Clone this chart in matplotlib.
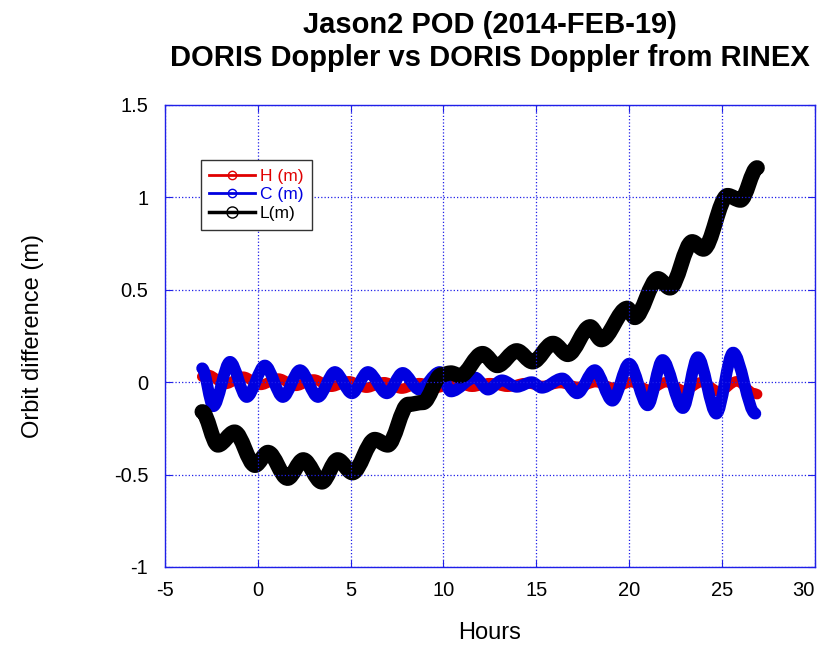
import numpy as np
import matplotlib.pyplot as plt
from matplotlib.lines import Line2D
from matplotlib.path import Path
from matplotlib.patches import PathPatch

plt.rcParams['font.family'] = ['Liberation Sans', 'DejaVu Sans']
plt.rcParams['axes.unicode_minus'] = False

# --- data (hours, metres), peaks and troughs ---
h_hours = [-3.0, -2.7, -1.75, -0.8, 0.15, 1.1, 2.05, 3.0, 3.95, 4.9, 5.85, 6.8,
           7.75, 8.7, 9.65, 10.6, 11.55, 12.5, 13.45, 14.4, 15.35, 16.3, 17.25,
           18.2, 19.15, 20.1, 21.05, 22.0, 22.95, 23.9, 24.85, 25.8, 26.75, 26.9]
h_vals = [0.03, 0.04, -0.01, 0.03, -0.015, 0.02, -0.02, 0.015, -0.025, 0.005,
          -0.03, 0.0, -0.035, -0.005, -0.03, 0.0, -0.025, -0.005, -0.025, -0.005,
          -0.02, -0.005, -0.025, 0.0, -0.03, 0.0, -0.04, 0.0, -0.045, 0.0,
          -0.05, 0.005, -0.06, -0.065]

c_hours = [-3.0, -2.4, -1.5, -0.6, 0.38, 1.35, 2.27, 3.24, 4.15, 5.07, 5.93,
           6.95, 7.8, 8.7, 9.8, 10.4, 11.7, 12.4, 13.15, 13.95, 14.75, 15.3,
           16.4, 17.2, 18.15, 19.1, 20.0, 21.0, 21.8, 22.9, 23.7, 24.7, 25.6,
           26.8]
c_vals = [0.075, -0.13, 0.11, -0.08, 0.09, -0.08, 0.065, -0.08, 0.055, -0.06,
          0.055, -0.06, 0.05, -0.04, 0.055, -0.05, 0.025, -0.04, 0.01, -0.025,
          0.0, -0.03, 0.02, -0.06, 0.065, -0.1, 0.1, -0.125, 0.12, -0.14,
          0.135, -0.17, 0.16, -0.17]

l_hours = [-3.0, -2.15, -1.25, -0.15, 0.55, 1.6, 2.45, 3.45, 4.3, 5.1, 6.3, 7.0,
           8.1, 8.9, 9.9, 10.4, 10.9, 12.1, 12.9, 13.95, 14.8, 15.9, 16.7, 17.9,
           18.5, 19.9, 20.3, 21.55, 22.2, 23.4, 24.0, 25.3, 26.0, 26.9]
l_vals = [-0.16, -0.34, -0.27, -0.45, -0.38, -0.52, -0.42, -0.54, -0.42, -0.49,
          -0.31, -0.34, -0.12, -0.11, 0.04, 0.05, 0.035, 0.155, 0.09, 0.17,
          0.11, 0.21, 0.15, 0.30, 0.23, 0.40, 0.35, 0.56, 0.51, 0.76, 0.72,
          1.01, 0.985, 1.16]

labels = ['H (m)', 'C (m)', 'L(m)']
colors = ['#e00000', '#0000e0', 'black']

x_ticks = [-5, 0, 5, 10, 15, 20, 25, 30]
y_ticks = [-1, -0.5, 0, 0.5, 1, 1.5]
y_tick_labels = ['-1', '-0.5', '0', '0.5', '1', '1.5']

axis_blue = '#1f1fe8'


def smooth_path(xs, ys):
    # cubic bezier through the read extrema, flat tangent at each one
    verts = [(xs[0], ys[0])]
    codes = [Path.MOVETO]
    for i in range(1, len(xs)):
        dx = (xs[i] - xs[i - 1]) / 3.0
        verts += [(xs[i - 1] + dx, ys[i - 1]), (xs[i] - dx, ys[i]), (xs[i], ys[i])]
        codes += [Path.CURVE4] * 3
    return Path(verts, codes)


fig = plt.figure(figsize=(8.23, 6.46), dpi=100)
ax = fig.add_axes([0.2005, 0.1223, 0.7895, 0.7152])

series = [(h_hours, h_vals, 7.5), (c_hours, c_vals, 8.5), (l_hours, l_vals, 11)]
for (xs, ys, lw), col in zip(series, colors):
    ax.add_patch(PathPatch(smooth_path(xs, ys), fill=False, edgecolor=col,
                           lw=lw, capstyle='round', joinstyle='round'))

ax.set_xlim(-5, 30)
ax.set_ylim(-1, 1.5)
ax.set_xticks(x_ticks)
ax.set_yticks(y_ticks)
ax.set_yticklabels(y_tick_labels)
ax.tick_params(direction='in', length=5, color=axis_blue, labelsize=14.5,
               top=True, right=True)
ax.tick_params(axis='y', pad=12)
ax.tick_params(axis='x', pad=10)
ax.get_xticklabels()[-1].set_horizontalalignment('right')
for s in ax.spines.values():
    s.set_color(axis_blue)
    s.set_linewidth(1.0)
ax.grid(True, color=axis_blue, linestyle=':', linewidth=0.9)

ax.set_xlabel('Hours', fontsize=17, labelpad=16)
ax.set_ylabel('Orbit difference (m)', fontsize=17, labelpad=50)
ax.set_title('Jason2 POD (2014-FEB-19)\nDORIS Doppler vs DORIS Doppler from RINEX',
             fontsize=21, fontweight='bold', pad=28, linespacing=1.25)

handles = [
    Line2D([], [], color=colors[0], lw=2, marker='o', ms=6, mfc='none'),
    Line2D([], [], color=colors[1], lw=2, marker='o', ms=6, mfc='none'),
    Line2D([], [], color=colors[2], lw=2.5, marker='o', ms=8, mfc='none'),
]
leg = ax.legend(handles, labels, loc='upper left',
                bbox_to_anchor=(0.055, 0.881), borderaxespad=0, fontsize=12.5,
                handlelength=2.6, handletextpad=0.3, fancybox=False,
                framealpha=1, edgecolor='#333333', labelspacing=0.2,
                borderpad=0.5)
leg.get_frame().set_linewidth(1.0)
for txt, col in zip(leg.get_texts(), colors):
    txt.set_color(col)

fig.savefig('out.png', dpi=100)
